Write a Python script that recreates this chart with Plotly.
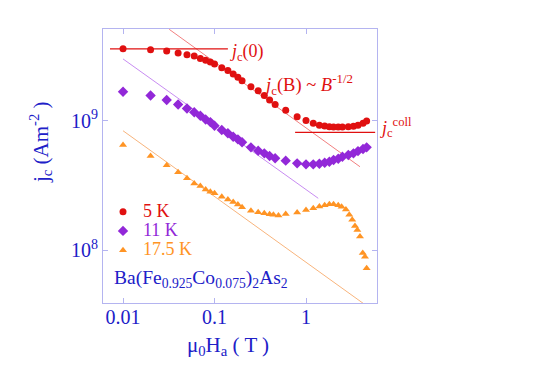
import plotly.graph_objects as go

# applied field (T)
field_5k = [0.01, 0.02, 0.03, 0.04, 0.05, 0.06, 0.07, 0.08, 0.09, 0.1,
            0.12, 0.14, 0.16, 0.18, 0.2, 0.25, 0.3, 0.35, 0.4, 0.46,
            0.6, 0.8, 1.0, 1.2, 1.4, 1.6, 1.8, 2.0, 2.25, 2.5,
            2.9, 3.3, 3.7, 4.2, 4.6]
jc_5k = [3.58e9, 3.52e9, 3.44e9, 3.32e9, 3.22e9, 3.15e9, 3.02e9, 2.92e9, 2.83e9, 2.73e9,
         2.56e9, 2.43e9, 2.29e9, 2.16e9, 2.03e9, 1.82e9, 1.70e9, 1.56e9, 1.44e9, 1.33e9,
         1.20e9, 1.07e9, 1.0e9, 9.51e8, 9.18e8, 9.07e8, 8.96e8, 8.91e8, 8.91e8, 8.91e8,
         8.96e8, 9.02e8, 9.18e8, 9.51e8, 9.9e8]

field_11k = field_5k
jc_11k = [1.67e9, 1.56e9, 1.44e9, 1.33e9, 1.24e9, 1.16e9, 1.09e9, 1.02e9, 9.73e8, 9.12e8,
          8.45e8, 7.97e8, 7.5e8, 7.16e8, 6.79e8, 6.21e8, 5.85e8, 5.58e8, 5.32e8, 5.11e8,
          4.9e8, 4.67e8, 4.59e8, 4.59e8, 4.64e8, 4.72e8, 4.81e8, 4.96e8, 5.07e8, 5.25e8,
          5.42e8, 5.58e8, 5.81e8, 6.03e8, 6.21e8]

field_17k = [0.01, 0.02, 0.03, 0.04, 0.05, 0.06, 0.07, 0.08, 0.09, 0.1,
             0.12, 0.14, 0.16, 0.18, 0.2, 0.25, 0.3, 0.35, 0.4, 0.44,
             0.5, 0.6, 0.8, 1.0, 1.2, 1.4, 1.6, 1.8, 2.0, 2.25,
             2.45, 2.73, 2.97, 3.2, 3.43, 3.64, 3.89, 4.17, 4.41, 4.6]
jc_17k = [6.47e8, 5.32e8, 4.51e8, 3.98e8, 3.58e8, 3.27e8, 3.12e8, 2.94e8, 2.82e8, 2.74e8,
          2.58e8, 2.46e8, 2.35e8, 2.25e8, 2.14e8, 2.01e8, 1.96e8, 1.92e8, 1.89e8, 1.87e8,
          1.85e8, 1.90e8, 1.95e8, 2.04e8, 2.10e8, 2.17e8, 2.22e8, 2.26e8, 2.26e8, 2.22e8,
          2.16e8, 2.06e8, 1.87e8, 1.71e8, 1.53e8, 1.43e8, 1.27e8, 9.5e7, 8.87e7, 7.22e7]

# guide lines (end points)
jc0_x = [0.0072, 0.14]
jc0_y = [3.58e9, 3.58e9]
coll_x = [0.76, 5.7]
coll_y = [8.11e8, 8.11e8]
fit_5k_x = [0.032, 3.89]
fit_5k_y = [5.06e9, 4.4e8]
fit_11k_x = [0.01, 1.36]
fit_11k_y = [2.99e9, 2.51e8]
fit_17k_x = [0.01, 4.23]
fit_17k_y = [8.34e8, 3.87e7]

x_ticks = [0.01, 0.1, 1]
x_ticktext = ["0.01", "0.1", "1"]
y_ticks = [1e8, 1e9]
y_ticktext = ["10<sup>8</sup>", "10<sup>9</sup>"]

RED = "#e01010"
PURPLE = "#9228d8"
ORANGE = "#ff9424"
BLUE = "#2020c8"
FRAME = "#b4b4f0"
SERIF = "Liberation Serif"


def guide(fig, x, y, color, width):
    fig.add_trace(
        go.Scatter(
            x=x,
            y=y,
            mode="lines",
            line=dict(color=color, width=width),
            showlegend=False,
            hoverinfo="skip"
        )
    )


def series(fig, x, y, name, color, symbol, size):
    fig.add_trace(
        go.Scatter(
            x=x,
            y=y,
            mode="markers",
            name="<span style='color:%s;font-size:18px'>%s</span>" % (color, name),
            marker=dict(color=color, symbol=symbol, size=size)
        )
    )


fig = go.Figure()

guide(fig, fit_5k_x, fit_5k_y, "#f28080", 1)
guide(fig, fit_11k_x, fit_11k_y, "#c88cf2", 1)
guide(fig, fit_17k_x, fit_17k_y, "#f8b47c", 1)
guide(fig, jc0_x, jc0_y, RED, 1.3)
guide(fig, coll_x, coll_y, RED, 1.3)

series(fig, field_5k, jc_5k, "5 K", RED, "circle", 7)
series(fig, field_11k, jc_11k, "11 K", PURPLE, "diamond", 8)
series(fig, field_17k, jc_17k, "17.5 K", ORANGE, "triangle-up", 7)

axis_common = dict(
    type="log",
    showgrid=False,
    zeroline=False,
    showline=True,
    linecolor=FRAME,
    linewidth=1,
    mirror="ticks",
    ticks="inside",
    ticklen=5,
    tickcolor=FRAME,
    tickfont=dict(family=SERIF, size=20, color=BLUE)
)

fig.update_xaxes(
    range=[-2.219, 0.776],
    tickvals=x_ticks,
    ticktext=x_ticktext,
    ticklabelstandoff=-4,
    **axis_common
)
fig.update_yaxes(
    range=[7.591, 9.707],
    tickvals=y_ticks,
    ticktext=y_ticktext,
    **axis_common
)

fig.add_annotation(
    x=-0.85, y=9.529, xref="x", yref="y",
    text="<i>j</i><sub>c</sub>(0)",
    showarrow=False, xanchor="left",
    font=dict(family=SERIF, size=18, color=RED)
)
fig.add_annotation(
    x=-0.48, y=9.275, xref="x", yref="y",
    text="<i>j</i><sub>c</sub>(B) ~ <i>B</i><sup>-1/2</sup>",
    showarrow=False, xanchor="left",
    font=dict(family=SERIF, size=18.5, color=RED)
)
fig.add_annotation(
    x=-2.12, y=7.775, xref="x", yref="y",
    text="Ba(Fe<sub>0.925</sub>Co<sub>0.075</sub>)<sub>2</sub>As<sub>2</sub>",
    showarrow=False, xanchor="left",
    font=dict(family=SERIF, size=19.5, color=BLUE)
)

# page body adds 8px, so the figure is 532x374 and the plot box
# lands at x 103..377, y 29..303 on screen
W, H = 532, 374
L, T, SIDE = 95, 21, 274
X0, Y1 = 103, 303

# label outside the axis range -> paper coords
fig.add_annotation(
    x=(378 - X0) / SIDE, y=(Y1 - 128) / SIDE,
    xref="paper", yref="paper",
    xanchor="left", yanchor="middle",
    text="<i>j</i><sub>c</sub><sup>coll</sup>",
    showarrow=False,
    font=dict(family=SERIF, size=18, color=RED)
)

# axis titles (positions in screen pixels)
fig.add_annotation(
    x=(40 - X0) / SIDE, y=(Y1 - 142) / SIDE,
    xref="paper", yref="paper",
    xanchor="center", yanchor="middle",
    text="j<sub>c</sub> (Am<sup>-2</sup> )",
    showarrow=False, textangle=-90,
    font=dict(family=SERIF, size=21, color=BLUE)
)
fig.add_annotation(
    x=(228 - X0) / SIDE, y=(Y1 - 346) / SIDE,
    xref="paper", yref="paper",
    xanchor="center", yanchor="middle",
    text="\u03bc<sub>0</sub>H<sub>a</sub> ( T )",
    showarrow=False,
    font=dict(family=SERIF, size=21, color=BLUE)
)

fig.update_layout(
    width=W,
    height=H,
    margin=dict(l=L, r=W - L - SIDE, t=T, b=H - T - SIDE),
    paper_bgcolor="white",
    plot_bgcolor="white",
    showlegend=True,
    legend=dict(
        x=0.0, y=(Y1 - 197) / SIDE, xanchor="left", yanchor="top",
        bgcolor="rgba(0,0,0,0)",
        font=dict(family=SERIF, size=12.5),
        tracegroupgap=0,
        itemwidth=30
    )
)

fig.write_html("out.html")
